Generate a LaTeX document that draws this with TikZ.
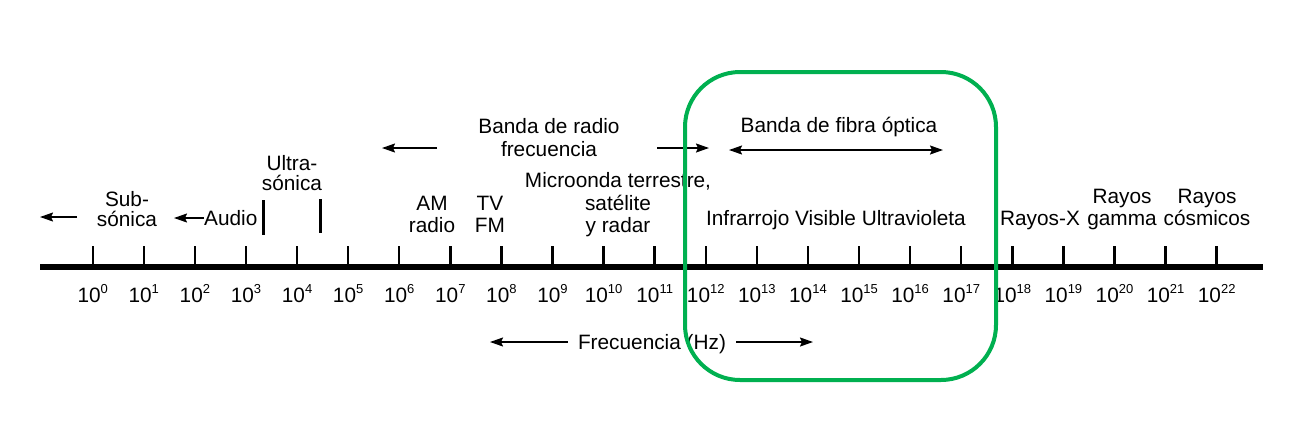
\documentclass[tikz,border=0pt]{standalone}
\usepackage{fontspec}
\setmainfont{Liberation Sans}
\usetikzlibrary{arrows.meta}
\definecolor{boxgreen}{RGB}{0,176,80}
\newcommand\pw[1]{10\raisebox{0.42em}{\fontsize{13}{13}\selectfont #1}}
\begin{document}
\begin{tikzpicture}[x=1pt,y=-1pt,
  lbl/.style={font=\fontsize{20.8}{24}\selectfont, inner sep=0pt, anchor=base},
  arr/.style={line width=1.6pt, -{Stealth[length=13pt,width=9pt,inset=2pt]}},
  darr/.style={line width=1.6pt, {Stealth[length=13pt,width=9pt,inset=2pt]}-{Stealth[length=13pt,width=9pt,inset=2pt]}},
  tickline/.style={line width=2.4pt},
  barline/.style={line width=3pt}]
\useasboundingbox (0,0) rectangle (1306,421);
% axis
\coordinate (axL) at (40,267);
\coordinate (axR) at (1263,267);
\draw[line width=6pt] (axL) -- (axR);
\foreach \i in {0,...,22}{
  \coordinate (tb\i) at ({92.7+51.09*\i},265);
  \coordinate (tt\i) at ({92.7+51.09*\i},246);
  \draw[tickline] (tb\i) -- (tt\i);
  \node[lbl] (e\i) at ({92.7+51.09*\i},302) {\pw{\i}};
}
% Sub-sonica
\node[lbl] (sub1) at (127,206.5) {Sub-};
\node[lbl] (sub2) at (127,226) {sónica};
\coordinate (subA) at (77,217);
\coordinate (subB) at (40,217);
\draw[arr] (subA) -- (subB);
% Audio
\node[lbl, anchor=base west] (audio) at (204,225) {Audio};
\coordinate (audB) at (174,218);
\draw[arr] (audio.west |- audB) -- (audB);
% Ultrasonica
\node[lbl] (ul1) at (292,170) {Ultra-};
\node[lbl] (ul2) at (292,190) {sónica};
\coordinate (b1a) at (263,200); \coordinate (b1b) at (263,235);
\coordinate (b2a) at (320,199); \coordinate (b2b) at (320,233);
\draw[barline] (b1a) -- (b1b);
\draw[barline] (b2a) -- (b2b);
% AM radio, TV FM
\node[lbl] (am1) at (432,210) {AM};
\node[lbl] (am2) at (432,232.5) {radio};
\node[lbl] (tv1) at (490,210) {TV};
\node[lbl] (tv2) at (490,232.5) {FM};
% Banda de radio frecuencia
\node[lbl] (br1) at (549,133) {Banda de radio};
\node[lbl] (br2) at (549,156) {frecuencia};
\coordinate (rlA) at (437,148); \coordinate (rlB) at (382,148);
\coordinate (rrA) at (657,148); \coordinate (rrB) at (709,148);
\draw[arr] (rlA) -- (rlB);
\draw[arr] (rrA) -- (rrB);
% Microonda
\node[lbl] (mw1) at (618,187) {Microonda terrestre,};
\node[lbl] (mw2) at (618,210) {satélite};
\node[lbl] (mw3) at (618,232) {y radar};
% Fibra optica
\node[lbl] (fo) at (839,132.5) {Banda de fibra óptica};
\coordinate (foA) at (729,150); \coordinate (foB) at (943,150);
\draw[darr] (foA) -- (foB);
\node[lbl] (ivu) at (836,225) {Infrarrojo Visible Ultravioleta};
% Rayos
\node[lbl] (rx) at (1040,225) {Rayos-X};
\node[lbl] (rg1) at (1122,203) {Rayos};
\node[lbl] (rg2) at (1122,225) {gamma};
\node[lbl] (rc1) at (1207,203) {Rayos};
\node[lbl] (rc2) at (1207,225) {cósmicos};
% Frecuencia (Hz)
\node[lbl] (fhz) at (652,349) {Frecuencia (Hz)};
\coordinate (fL) at (490,342); \coordinate (fR) at (813,342);
\draw[arr] (fhz.west |- fL) ++(-10,0) -- (fL);
\draw[arr] (fhz.east |- fR) ++(10,0) -- (fR);
% green highlight
\draw[boxgreen, line width=4pt, rounded corners=55pt] (685,72) rectangle (996,380);
\end{tikzpicture}
\end{document}
